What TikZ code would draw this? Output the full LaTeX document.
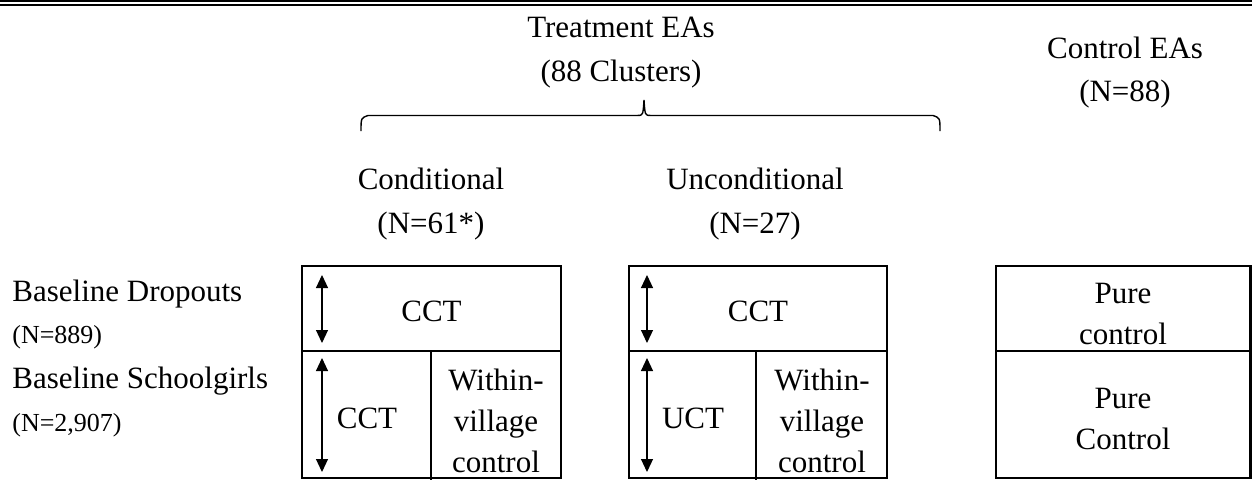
\documentclass[tikz,border=0pt]{standalone}
\usepackage{fontspec}
\setmainfont{Liberation Serif}
\usetikzlibrary{arrows.meta}
\begin{document}
\begin{tikzpicture}[x=0.5pt,y=-0.5pt,
  lbl/.style={align=center,inner sep=0pt,font=\fontsize{15.5}{21.75}\selectfont},
  celltext/.style={align=center,inner sep=0pt,font=\fontsize{15.5}{20.5}\selectfont},
  side/.style={anchor=base west,inner sep=0pt,font=\fontsize{15.5}{19}\selectfont},
  sidesmall/.style={anchor=base west,inner sep=0pt,font=\fontsize{13}{16}\selectfont},
  boxline/.style={line width=1.35pt},
  divline/.style={line width=1.2pt},
  dbl/.style={line width=0.55pt,{Triangle[width=6pt,length=6.5pt]}-{Triangle[width=6pt,length=6.5pt]}},
  bracel/.style={line width=0.7pt}
]
\useasboundingbox (0,0) rectangle (1252,489);
% top double rule
\draw[line width=0.8pt] (0,0.9) -- (1252,0.9);
\draw[line width=1pt] (0,5) -- (1252,5);

% headings
\node[lbl] (treat) at (621,52.5) {Treatment EAs\\(88 Clusters)};
\node[lbl] (ctrl) at (1125,72.5) {Control EAs\\(N=88)};
\node[lbl] (cond) at (431,204) {Conditional\\(N=61*)};
\node[lbl] (uncond) at (755,204) {Unconditional\\(N=27)};

% brace
\coordinate (brL) at (361,131);
\coordinate (brM) at (644,100);
\coordinate (brR) at (940,131);
\draw[bracel] (brL) .. controls (361,118) .. (368,115.5) -- (637,115.5)
  .. controls (643,115.5) .. (brM) .. controls (645,115.5) .. (651,115.5)
  -- (933,115.5) .. controls (940,118) .. (brR);

% side labels
\node[side] (bd) at (12,301) {Baseline Dropouts};
\node[sidesmall] (bdn) at (12,343) {(N=889)};
\node[side] (bs) at (12,388) {Baseline Schoolgirls};
\node[sidesmall] (bsn) at (12,431) {(N=2,907)};

% box 1
\draw[boxline] (302,266) rectangle (561,478);
\draw[boxline] (302,351) -- (561,351);
\draw[divline] (431,351) -- (431,480);
\node[celltext] (c1a) at (431.5,311) {CCT};
\node[celltext] (c1b) at (367,418) {CCT};
\node[celltext] (c1c) at (496,421) {Within-\\village\\control};
\coordinate (a1t) at (322,275);
\coordinate (a1b) at (322,343);
\coordinate (a1t2) at (322,358);
\coordinate (a1b2) at (322,472);
\draw[dbl] (a1t) -- (a1b);
\draw[dbl] (a1t2) -- (a1b2);

% box 2
\draw[boxline] (629,266) rectangle (887,478);
\draw[boxline] (629,351) -- (887,351);
\draw[divline] (756,351) -- (756,480);
\node[celltext] (c2a) at (758,311) {CCT};
\node[celltext] (c2b) at (693,418) {UCT};
\node[celltext] (c2c) at (822,421) {Within-\\village\\control};
\coordinate (a2t) at (647,275);
\coordinate (a2b) at (647,343);
\coordinate (a2t2) at (647,358);
\coordinate (a2b2) at (647,472);
\draw[dbl] (a2t) -- (a2b);
\draw[dbl] (a2t2) -- (a2b2);

% box 3
\draw[boxline] (996,266) rectangle (1250.5,478);
\draw[boxline] (996,351) -- (1250.5,351);
\node[celltext] (c3a) at (1123,314) {Pure\\control};
\node[celltext] (c3b) at (1123,419) {Pure\\Control};
\end{tikzpicture}
\end{document}
